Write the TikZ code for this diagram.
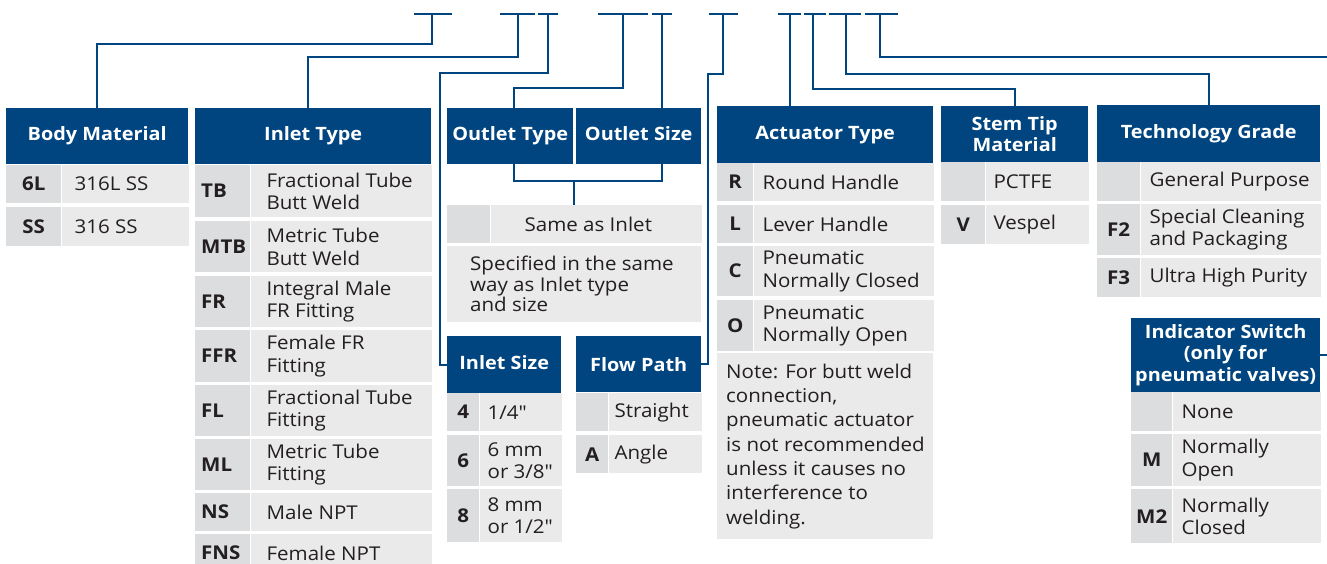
\documentclass[tikz,border=0pt]{standalone}
\usepackage{fontspec}
\setmainfont{Open Sans}[FakeStretch=1.08]
\newfontfamily\nomapfont{Open Sans}[FakeStretch=1.08, Ligatures=TeXOff]
\definecolor{hblue}{RGB}{0,69,128}
\definecolor{cgray}{RGB}{220,221,223}
\definecolor{dgray}{RGB}{234,234,235}
\definecolor{txt}{RGB}{35,31,32}
\newcommand\bodyfnt{\fontsize{19}{22.5}\selectfont}
\newcommand\hdrfnt{\fontsize{18.4}{21.5}\selectfont\bfseries}
\newcommand\codefnt{\fontsize{19}{22}\selectfont\bfseries}
\newcommand\dq{{\nomapfont"}}
\tikzset{
  hdr/.style={fill=hblue, text=white, font=\hdrfnt, inner sep=0pt, anchor=north west, align=center},
  codec/.style={fill=cgray, text=txt, font=\codefnt, inner sep=0pt, anchor=north west},
  descc/.style={fill=dgray, inner sep=0pt, anchor=north west},
  lbl/.style={font=\bodyfnt, text=txt, align=left, anchor=west, inner sep=0pt},
  conn/.style={draw=hblue, line width=2pt},
}
% name, x, y, code width, desc width, height, code, pad, description
\newcommand\trow[9]{%
  \node[codec, minimum width=#4pt, minimum height=#6pt] (#1c) at (#2,#3) {#7};
  \node[descc, minimum width=#5pt, minimum height=#6pt] (#1d) at (#1c.north east) {};
  \node[lbl] (#1t) at ([xshift=#8pt]#1d.west) {#9};
}
\newcommand\lcode[1]{\makebox[43pt][l]{#1}}
\begin{document}
\begin{tikzpicture}[x=1pt,y=-1pt]
\useasboundingbox (0,0) rectangle (1327,563);
\clip (0,0) rectangle (1327,563);

% ---- Body Material
\node[hdr, minimum width=182pt, minimum height=56pt] (bm) at (6,108) {Body Material};
\trow{bmA}{6}{165}{55}{127}{38}{6L}{13}{316L SS}
\trow{bmB}{6}{207}{55}{127}{39}{SS}{13}{316 SS}

% ---- Inlet Type
\node[hdr, minimum width=236pt, minimum height=56pt] (it) at (195,108) {Inlet Type};
\trow{itA}{195}{165}{55}{181}{52}{\lcode{TB}}{16}{Fractional Tube\\Butt Weld}
\trow{itB}{195}{221}{55}{181}{51}{\lcode{MTB}}{16}{Metric Tube\\Butt Weld}
\trow{itC}{195}{276}{55}{181}{51}{\lcode{FR}}{16}{Integral Male\\FR Fitting}
\trow{itD}{195}{330}{55}{181}{52}{\lcode{FFR}}{16}{Female FR\\Fitting}
\trow{itE}{195}{385}{55}{181}{51}{\lcode{FL}}{16}{Fractional Tube\\Fitting}
\trow{itF}{195}{439}{55}{181}{51}{\lcode{ML}}{16}{Metric Tube\\Fitting}
\trow{itG}{195}{493}{55}{181}{38}{\lcode{NS}}{16}{Male NPT}
\trow{itH}{195}{534}{55}{181}{38}{\lcode{FNS}}{16}{Female NPT}

% ---- Outlet Type / Size
\node[hdr, minimum width=126pt, minimum height=56pt] (ot) at (447,108) {Outlet Type};
\node[hdr, minimum width=125pt, minimum height=56pt] (os) at (576,108) {Outlet Size\vphantom{y}};
\trow{sa}{447}{205}{43}{211}{38}{}{34}{Same as Inlet}
\node[descc, minimum width=254pt, minimum height=76pt] (spec) at (447,246) {};
\node[lbl, font=\fontsize{19}{20.5}\selectfont] (spect) at ([xshift=23pt]spec.west) {Specified in the same\\way as Inlet type\\and size};

% ---- Inlet Size
\node[hdr, minimum width=114pt, minimum height=57pt] (is) at (447,336) {Inlet Size\vphantom{y}};
\trow{isA}{447}{393}{32}{82}{38}{4}{8}{1/4\dq}
\trow{isB}{447}{435}{32}{82}{51}{6}{8}{6 mm\\or 3/8\dq}
\trow{isC}{447}{489}{32}{82}{53}{8}{8}{8 mm\\or 1/2\dq}

% ---- Flow Path
\node[hdr, minimum width=125pt, minimum height=56pt] (fp) at (576,336) {Flow Path};
\trow{fpA}{576}{393}{32}{93}{38}{}{6}{Straight}
\trow{fpB}{576}{435}{32}{93}{38}{A}{6}{Angle}

% ---- Actuator Type
\node[hdr, minimum width=216pt, minimum height=57pt] (at) at (717,106) {Actuator Type};
\trow{atA}{717}{163}{36}{180}{38}{R}{9}{Round Handle}
\trow{atB}{717}{205}{36}{180}{38}{L}{9}{Lever Handle}
\trow{atC}{717}{246}{36}{180}{50}{C}{9}{Pneumatic\\Normally Closed}
\trow{atD}{717}{300}{36}{180}{51}{O}{9}{Pneumatic\\Normally Open}
\node[descc, minimum width=216pt, minimum height=186pt] (note) at (717,353) {};
\node[lbl, font=\fontsize{19}{24.3}\selectfont] (notet) at ([xshift=9pt]note.west) {Note: For butt weld\\connection,\\pneumatic actuator\\is not recommended\\unless it causes no\\interference to\\welding.};

% ---- Stem Tip Material
\node[hdr, minimum width=147pt, minimum height=56pt] (st) at (941,106) {Stem Tip\\Material};
\trow{stA}{941}{162}{44}{103}{39}{}{8}{PCTFE}
\trow{stB}{941}{205}{44}{103}{39}{V}{8}{Vespel}

% ---- Technology Grade
\node[hdr, minimum width=223pt, minimum height=57pt] (tg) at (1097,105) {Technology Grade};
\trow{tgA}{1097}{162}{43}{180}{39}{}{9}{General Purpose}
\trow{tgB}{1097}{204}{43}{180}{51}{F2}{9}{Special Cleaning\\and Packaging}
\trow{tgC}{1097}{258}{43}{180}{39}{F3}{9}{Ultra High Purity}

% ---- Indicator Switch
\node[hdr, minimum width=189pt, minimum height=74pt] (ind) at (1131,318) {Indicator Switch\\(only for\\pneumatic valves)};
\trow{inA}{1131}{392}{41}{148}{39}{}{9}{None}
\trow{inB}{1131}{434}{41}{148}{52}{M}{9}{Normally\\Open}
\trow{inC}{1131}{489}{41}{148}{54}{M2}{9}{Normally\\Closed}

% ---- top ticks
\draw[conn] (414,14) -- (452,14);
\draw[conn] (500,14) -- (535,14);
\draw[conn] (538,14) -- (558,14);
\draw[conn] (598,14) -- (648,14);
\draw[conn] (652,14) -- (672,14);
\draw[conn] (709,14) -- (738,14);
\draw[conn] (778,14) -- (801,14);
\draw[conn] (804,14) -- (826,14);
\draw[conn] (829,14) -- (861,14);
\draw[conn] (865,14) -- (898,14);
\coordinate (k1) at (432,14);
\coordinate (k2) at (518,14);
\coordinate (k3) at (548,14);
\coordinate (k4) at (623,14);
\coordinate (k5) at (662,14);
\coordinate (k6) at (723,14);
\coordinate (k7) at (790,14);
\coordinate (k8) at (813,14);
\coordinate (k9) at (846,14);
\coordinate (k10) at (880,14);

% ---- connectors
\draw[conn] (k1) -- (432,44) -| (bm.north);
\draw[conn] (k2) -- (518,57) -| ([xshift=-5pt]it.north);
\draw[conn] (k3) -- (548,73) -| ([xshift=-7pt]is.west) -- (is.west);
\draw[conn] (k4) -- (623,88) -| ([xshift=4pt]ot.north);
\draw[conn] (k5) -- (k5 |- os.north);
\draw[conn] (k6) -- (723,74) -| ([xshift=7pt]fp.east) -- (fp.east);
\draw[conn] (k7) -- (k7 |- at.north);
\draw[conn] (k8) -- (813,89) -| (st.north);
\draw[conn] (k9) -- (846,74) -| (tg.north);
\draw[conn] (k10) -- (880,57) -| ([xshift=9pt]ind.east) -- (ind.east);

% ---- outlet bracket
\coordinate (ob1) at (514,181);
\coordinate (ob2) at (662,181);
\coordinate (obm) at (574,181);
\draw[conn] (ob1 |- ot.south) -- (ob1) -- (ob2) -- (ob2 |- os.south);
\draw[conn] (obm) -- (obm |- sac.north);
\end{tikzpicture}
\end{document}
